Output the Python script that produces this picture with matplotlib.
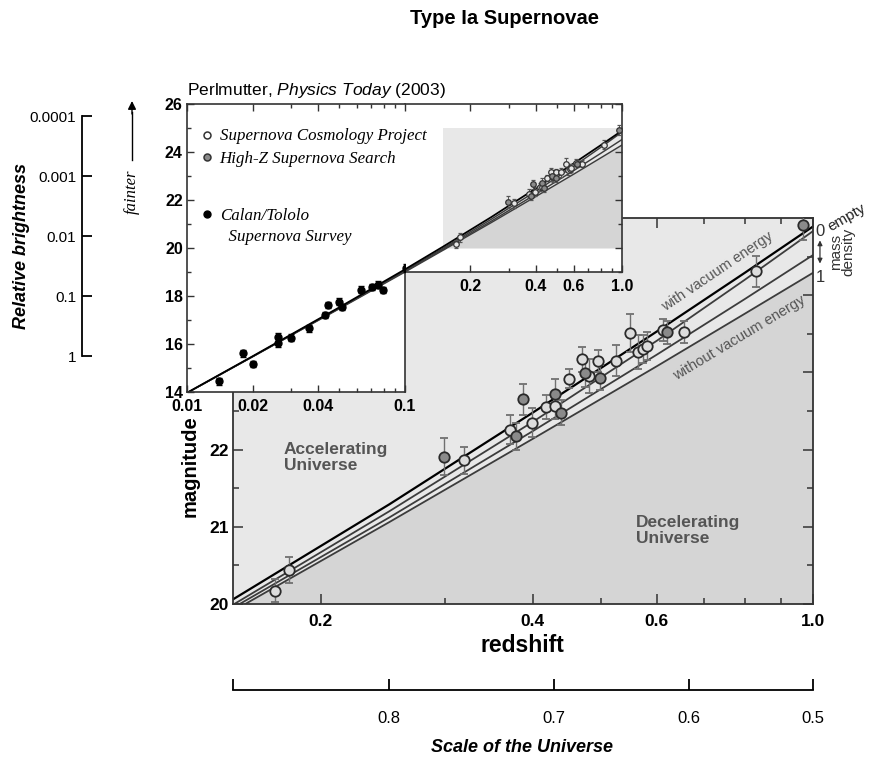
import numpy as np
import matplotlib.pyplot as plt
from matplotlib.lines import Line2D
from matplotlib.ticker import FixedLocator, FixedFormatter, NullFormatter
import matplotlib.transforms as mtransforms

plt.rcParams['font.family'] = ['Liberation Sans', 'DejaVu Sans']
plt.rcParams['mathtext.fontset'] = 'custom'
plt.rcParams['mathtext.rm'] = 'Liberation Sans'
plt.rcParams['mathtext.it'] = 'Liberation Sans:italic'

# model curves: magnitude at these redshifts
z_model = [0.01, 0.02, 0.05, 0.1, 0.15, 0.25, 0.4, 0.6, 0.8, 1.0]
m_vacuum = [13.97, 15.49, 17.53, 19.11, 20.06, 21.29, 22.48, 23.53, 24.29, 24.89]
m_empty = [13.96, 15.48, 17.50, 19.06, 19.99, 21.20, 22.36, 23.41, 24.20, 24.83]
m_half = [13.96, 15.47, 17.49, 19.03, 19.95, 21.12, 22.24, 23.23, 23.95, 24.52]
m_full = [13.96, 15.47, 17.47, 19.00, 19.91, 21.06, 22.14, 23.08, 23.76, 24.29]

# Supernova Cosmology Project (open circles)
z_scp = [0.172, 0.180, 0.319, 0.371, 0.399, 0.417, 0.430, 0.450, 0.470, 0.481,
         0.495, 0.525, 0.550, 0.564, 0.573, 0.581, 0.613, 0.655, 0.830]
m_scp = [20.17, 20.44, 21.86, 22.26, 22.35, 22.55, 22.56, 22.92, 23.17, 22.95,
         23.15, 23.15, 23.51, 23.27, 23.30, 23.34, 23.55, 23.52, 24.31]
e_scp = [0.15, 0.17, 0.18, 0.19, 0.19, 0.16, 0.16, 0.12, 0.16, 0.22,
         0.14, 0.20, 0.25, 0.22, 0.18, 0.18, 0.14, 0.14, 0.20]

# High-Z Supernova Search (grey circles)
z_hzt = [0.299, 0.379, 0.387, 0.430, 0.439, 0.475, 0.499, 0.620, 0.969]
m_hzt = [21.91, 22.17, 22.65, 22.72, 22.48, 22.99, 22.93, 23.52, 24.91]
e_hzt = [0.24, 0.18, 0.20, 0.19, 0.16, 0.18, 0.16, 0.15, 0.20]

# Calan/Tololo Supernova Survey (black dots)
z_ct = [0.0140, 0.0181, 0.0200, 0.0261, 0.0261, 0.0301, 0.0361, 0.0430,
        0.0443, 0.0500, 0.0515, 0.0631, 0.0708, 0.0752, 0.0790, 0.1010]
m_ct = [14.45, 15.62, 15.17, 16.05, 16.30, 16.27, 16.65, 17.20,
        17.63, 17.77, 17.53, 18.27, 18.36, 18.47, 18.25, 19.16]
e_ct = [0.14, 0.15, 0.13, 0.17, 0.16, 0.14, 0.15, 0.13,
        0.14, 0.15, 0.12, 0.13, 0.12, 0.14, 0.13, 0.16]

# side scales
bright_ticks = [1, 0.1, 0.01, 0.001, 0.0001]
bright_labels = ['1', '0.1', '0.01', '0.001', '0.0001']
mag_ref = 15.5
scale_ticks = [0.8, 0.7, 0.6, 0.5]

z_lim = (0.15, 1.0)
m_lim = (20, 25)

light = '#e8e8e8'
dark = '#d5d5d5'
note = '#555555'
W, H = 870.0, 761.0


def box(x0, y0, x1, y1):
    # pixel box -> figure rect
    return [x0 / W, 1 - y1 / H, (x1 - x0) / W, (y1 - y0) / H]


def draw_models(ax, lw_scale=1.0):
    ax.plot(z_model, m_full, color='#3c3c3c', lw=1.3 * lw_scale, zorder=2)
    ax.plot(z_model, m_half, color='#3c3c3c', lw=1.3 * lw_scale, zorder=2)
    ax.plot(z_model, m_empty, color='#3c3c3c', lw=1.3 * lw_scale, zorder=2)
    ax.plot(z_model, m_vacuum, color='black', lw=1.6 * lw_scale, zorder=2)


fig = plt.figure(figsize=(8.7, 7.61), dpi=100)

# ---------- main panel ----------
ax = fig.add_axes(box(233, 218, 813, 604))
ax.set_xscale('log')
ax.set_xlim(z_lim)
ax.set_ylim(m_lim)
ax.set_facecolor(light)
ax.fill_between(z_model, m_lim[0] - 1, m_full, color=dark, lw=0, zorder=0)
draw_models(ax)
ax.errorbar(z_scp, m_scp, yerr=e_scp, fmt='o', ms=7.5, mfc='#dcdcdc', mec='#2a2a2a',
            mew=1.3, ecolor='#707070', elinewidth=1, capsize=3, capthick=1, zorder=3)
ax.errorbar(z_hzt, m_hzt, yerr=e_hzt, fmt='o', ms=7.5, mfc='#8a8a8a', mec='#2a2a2a',
            mew=1.3, ecolor='#707070', elinewidth=1, capsize=3, capthick=1, zorder=3)

ax.xaxis.set_major_locator(FixedLocator([0.2, 0.4, 0.6, 1.0]))
ax.xaxis.set_major_formatter(FixedFormatter(['0.2', '0.4', '0.6', '1.0']))
ax.xaxis.set_minor_locator(FixedLocator([0.3, 0.5, 0.7, 0.8, 0.9]))
ax.xaxis.set_minor_formatter(NullFormatter())
# upper labels sit under the inset, so only the visible ones are written
ax.yaxis.set_major_locator(FixedLocator([20, 21, 22, 23, 24, 25]))
ax.yaxis.set_major_formatter(FixedFormatter(['20', '21', '22', '', '', '']))
ax.yaxis.set_minor_locator(FixedLocator([20.5, 21.5, 22.5, 23.5, 24.5]))
ax.tick_params(which='both', direction='in', top=True, right=True, width=1.1, color='#333333')
ax.tick_params(which='major', length=7, labelsize=12.5)
ax.tick_params(which='minor', length=4)
ax.tick_params(axis='x', pad=7)
ax.tick_params(axis='y', pad=3)
for lab in ax.get_xticklabels() + ax.get_yticklabels():
    lab.set_fontweight('bold')
for sp in ax.spines.values():
    sp.set_linewidth(1.3)
    sp.set_color('#333333')

ax.text(0.177, 21.9, 'Accelerating\nUniverse', color=note, fontsize=12.5,
        fontweight='bold', ha='left', va='center', linespacing=1.1)
ax.text(0.561, 20.95, 'Decelerating\nUniverse', color=note, fontsize=12.5,
        fontweight='bold', ha='left', va='center', linespacing=1.1)
ax.text(0.732, 24.30, 'with vacuum energy', color=note, fontsize=10.5,
        rotation=34, rotation_mode='anchor', ha='center', va='center')
ax.text(0.787, 23.45, 'without vacuum energy', color=note, fontsize=10.5,
        rotation=31, rotation_mode='anchor', ha='center', va='center')

blend = mtransforms.blended_transform_factory(ax.transAxes, ax.transData)
ax.text(1.012, m_empty[-1], '0', transform=blend, fontsize=12, ha='center', va='center',
        color='#333333')
ax.text(1.012, m_full[-1] - 0.06, '1', transform=blend, fontsize=12, ha='center', va='center',
        color='#333333')
ax.text(1.027, m_empty[-1] + 0.04, 'empty', transform=blend, fontsize=11, ha='left',
        va='center', rotation=30, rotation_mode='anchor', color='#222222')
ax.text(1.05, (m_empty[-1] + m_full[-1]) / 2, 'mass\ndensity', transform=blend,
        fontsize=11, ha='center', va='center', rotation=90, linespacing=0.85,
        color='#333333')
ax.annotate('', xy=(1.012, m_empty[-1] - 0.12), xytext=(1.012, m_full[-1] + 0.12),
            xycoords=blend, textcoords=blend, annotation_clip=False,
            arrowprops=dict(arrowstyle='<|-|>', lw=0.9, color='#333333',
                            mutation_scale=7, shrinkA=0, shrinkB=0))

# ---------- inset (L-shaped: two pieces on one scale) ----------
axL = fig.add_axes(box(187, 104, 405, 392))
axR = fig.add_axes(box(405, 104, 622, 272))
axR.set_zorder(3)
axL.set_zorder(4)
for a in (axL, axR):
    a.set_facecolor('white')
    a.set_xscale('log')
    draw_models(a, lw_scale=0.8)
    a.tick_params(which='both', direction='in', width=1, color='#333333')
    a.tick_params(which='major', length=5, labelsize=11.5)
    a.tick_params(which='minor', length=3)
    a.tick_params(axis='x', pad=5)
    a.tick_params(axis='y', pad=3)
    for sp in a.spines.values():
        sp.set_linewidth(1.2)
        sp.set_color('#333333')

axL.set_xlim(0.01, 0.1)
axL.set_ylim(14, 26)
axR.set_xlim(0.1, 1.0)
axR.set_ylim(19, 26)

# shaded box = main panel region
axR.fill_between(list(z_lim), m_lim[0], m_lim[1], color=light, lw=0, zorder=0)
z_box = [z for z in z_model if z >= z_lim[0]]
m_box = [m for z, m in zip(z_model, m_full) if z >= z_lim[0]]
axR.fill_between(z_box, m_lim[0], m_box, color=dark, lw=0, zorder=0)

axL.errorbar(z_ct, m_ct, yerr=e_ct, fmt='o', ms=5, mfc='black', mec='black',
             ecolor='black', elinewidth=1, capsize=2, capthick=1, zorder=3)
axR.errorbar(z_scp, m_scp, yerr=e_scp, fmt='o', ms=4, mfc='#e6e6e6', mec='#333333',
             mew=0.9, ecolor='#555555', elinewidth=0.7, capsize=1.5, capthick=0.7, zorder=3)
axR.errorbar(z_hzt, m_hzt, yerr=e_hzt, fmt='o', ms=4, mfc='#8a8a8a', mec='#333333',
             mew=0.9, ecolor='#555555', elinewidth=0.7, capsize=1.5, capthick=0.7, zorder=3)

axL.spines['right'].set_bounds(14, 19)
axL.xaxis.set_major_locator(FixedLocator([0.01, 0.02, 0.04, 0.1]))
axL.xaxis.set_major_formatter(FixedFormatter(['0.01', '0.02', '0.04', '0.1']))
axL.xaxis.set_minor_locator(FixedLocator([0.03, 0.05, 0.06, 0.07, 0.08, 0.09]))
axL.xaxis.set_minor_formatter(NullFormatter())
axL.yaxis.set_major_locator(FixedLocator([14, 16, 18, 20, 22, 24, 26]))
axL.yaxis.set_minor_locator(FixedLocator([15, 17, 19, 21, 23, 25]))
axL.tick_params(which='both', top=True, right=False)

axR.spines['left'].set_visible(False)
axR.xaxis.set_major_locator(FixedLocator([0.2, 0.4, 0.6, 1.0]))
axR.xaxis.set_major_formatter(FixedFormatter(['0.2', '0.4', '0.6', '1.0']))
axR.xaxis.set_minor_locator(FixedLocator([0.3, 0.5, 0.7, 0.8, 0.9]))
axR.xaxis.set_minor_formatter(NullFormatter())
axR.yaxis.set_major_locator(FixedLocator([20, 22, 24, 26]))
axR.yaxis.set_minor_locator(FixedLocator([19, 21, 23, 25]))
axR.tick_params(which='both', top=True, right=True, left=False, labelleft=False)

for a in (axL, axR):
    for lab in a.get_xticklabels() + a.get_yticklabels():
        lab.set_fontweight('bold')

serif = {'family': ['Liberation Serif', 'DejaVu Serif'], 'style': 'italic', 'size': 12.2}
h_scp = Line2D([], [], marker='o', ls='none', ms=5, mfc='white', mec='#333333', mew=1.1)
h_hzt = Line2D([], [], marker='o', ls='none', ms=5, mfc='#8a8a8a', mec='#333333', mew=1.1)
h_ct = Line2D([], [], marker='o', ls='none', ms=5, mfc='black', mec='black')
h_none = Line2D([], [], ls='none')
leg1 = axL.legend([h_scp, h_hzt], ['Supernova Cosmology Project', 'High-Z Supernova Search'],
                  loc='upper left', bbox_to_anchor=(0.06, 0.915), frameon=False, prop=serif,
                  handlelength=0.8, handletextpad=0.35, labelspacing=0.4, borderaxespad=0,
                  borderpad=0)
axL.add_artist(leg1)
axL.legend([h_ct, h_none], ['Calan/Tololo', '  Supernova Survey'],
           loc='upper left', bbox_to_anchor=(0.06, 0.64), frameon=False, prop=serif,
           handlelength=0.8, handletextpad=0.35, labelspacing=0.3, borderaxespad=0,
           borderpad=0)

# ---------- relative brightness scale ----------
axB = fig.add_axes(box(82, 104, 84, 392))
axB.set_ylim(14, 26)
axB.set_facecolor('none')
for side in ('right', 'top', 'bottom'):
    axB.spines[side].set_visible(False)
b_mags = [mag_ref - 2.5 * np.log10(b) for b in bright_ticks]
axB.spines['left'].set_bounds(min(b_mags), max(b_mags))
axB.spines['left'].set_linewidth(1.3)
axB.set_xticks([])
axB.set_yticks(b_mags)
axB.set_yticklabels(bright_labels)
axB.tick_params(axis='y', direction='in', length=7, width=1.3, labelsize=11, pad=4)

# ---------- scale of the universe ----------
axS = fig.add_axes(box(233, 689, 813, 690))
axS.set_xscale('log')
axS.set_xlim(z_lim)
axS.set_facecolor('none')
for side in ('left', 'right', 'top'):
    axS.spines[side].set_visible(False)
axS.spines['bottom'].set_linewidth(1.3)
axS.set_yticks([])
axS.xaxis.set_major_locator(FixedLocator([1 / a - 1 for a in scale_ticks]))
axS.xaxis.set_major_formatter(FixedFormatter([str(a) for a in scale_ticks]))
axS.xaxis.set_minor_locator(FixedLocator([z_lim[0]]))
axS.xaxis.set_minor_formatter(NullFormatter())
axS.tick_params(axis='x', which='both', direction='in', length=8, width=1.3,
                labelsize=12, pad=15)

# ---------- labels ----------
fig.text(504 / W, 1 - 19 / H, 'Type Ia Supernovae', fontsize=14.5, fontweight='bold',
         ha='center', va='center')
fig.text(187 / W, 1 - 90 / H, r'Perlmutter, $\it{Physics\ Today}$ (2003)', fontsize=12.5,
         ha='left', va='center')
fig.text(190 / W, 1 - 466 / H, 'magnitude', fontsize=14.5, fontweight='bold', rotation=90,
         ha='center', va='center')
fig.text(522 / W, 1 - 645 / H, 'redshift', fontsize=16.5, fontweight='bold',
         ha='center', va='center')
fig.text(522 / W, 1 - 748 / H, 'Scale of the Universe', fontsize=13, fontweight='bold',
         style='italic', ha='center', va='center')
fig.text(22 / W, 1 - 246 / H, 'Relative brightness', fontsize=13, fontweight='bold',
         style='italic', rotation=90, ha='center', va='center')
fig.text(132 / W, 1 - 192 / H, 'fainter', fontsize=12,
         family=['Liberation Serif', 'DejaVu Serif'], style='italic', rotation=90,
         ha='center', va='center')
fig.add_artist(plt.Line2D([132 / W, 132 / W], [1 - 160 / H, 1 - 112 / H], color='black', lw=1))
axB.annotate('', xy=(132 / W, 1 - 101 / H), xytext=(132 / W, 1 - 114 / H),
             xycoords='figure fraction', textcoords='figure fraction', annotation_clip=False,
             arrowprops=dict(arrowstyle='-|>', color='black', lw=1, mutation_scale=12,
                             shrinkA=0, shrinkB=0))

fig.savefig('out.png', dpi=100)
